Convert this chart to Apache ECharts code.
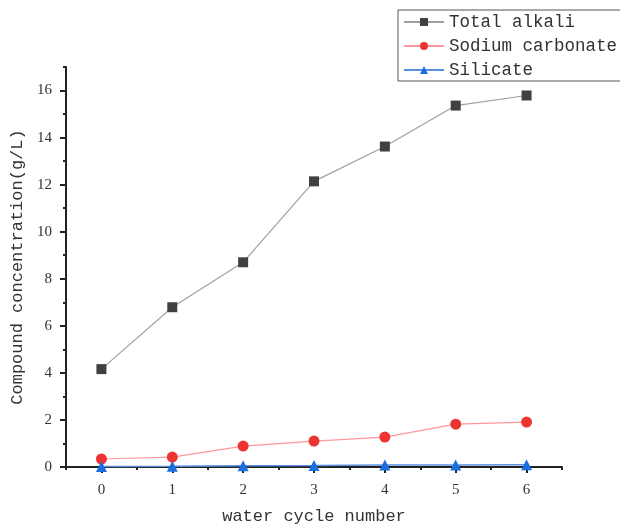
<!DOCTYPE html>
<html>
<head>
<meta charset="utf-8">
<script src="https://cdn.jsdelivr.net/npm/echarts@6/dist/echarts.min.js"></script>
<style>html,body{margin:0;padding:0;background:#fff}#c{width:620px;height:526px}</style>
</head>
<body>
<div id="c"></div>
<script>
var categories = ['0', '1', '2', '3', '4', '5', '6'];
var totalAlkali = [4.16, 6.79, 8.70, 12.14, 13.62, 15.36, 15.79];
var sodiumCarbonate = [0.34, 0.42, 0.89, 1.10, 1.27, 1.82, 1.91];
var silicate = [0.02, 0.03, 0.05, 0.06, 0.08, 0.09, 0.10];
var yTicks = [0, 2, 4, 6, 8, 10, 12, 14, 16];

var monoFont = '"Liberation Mono", monospace';
var serifFont = '"Liberation Serif", serif';
var chart = echarts.init(document.getElementById('c'));
chart.setOption({
  animation: false,
  backgroundColor: '#fff',
  grid: {left: 66, right: 58, top: 67, bottom: 59, containLabel: false, outerBoundsMode: 'none'},
  legend: {
    left: 398, top: 10, orient: 'vertical',
    itemWidth: 40, itemHeight: 10, itemGap: 6,
    padding: [3, 30, 2, 5],
    borderColor: '#555', borderWidth: 1,
    textStyle: {fontFamily: monoFont, fontSize: 17.5, color: '#333', lineHeight: 18},
    data: ['Total alkali', 'Sodium carbonate', 'Silicate']
  },
  xAxis: [
    {
      type: 'category', data: categories, boundaryGap: true,
      name: 'water cycle number', nameLocation: 'middle', nameGap: 41,
      nameTextStyle: {fontFamily: monoFont, fontSize: 17, color: '#333'},
      axisLine: {show: true, onZero: false, lineStyle: {color: '#222', width: 2}},
      axisTick: {show: true, alignWithLabel: true, inside: false, length: 6, lineStyle: {color: '#222', width: 2}},
      axisLabel: {margin: 16, fontFamily: serifFont, fontSize: 15, color: '#333'},
      splitLine: {show: false}
    },
    {
      type: 'value', min: -0.5, max: 6.5, interval: 0.5, position: 'bottom',
      axisLine: {show: false, onZero: false},
      axisTick: {show: true, length: 3, lineStyle: {color: '#222', width: 2}},
      axisLabel: {show: false},
      splitLine: {show: false}
    }
  ],
  yAxis: [
    {
      type: 'value', min: 0, max: 17,
      name: 'Compound concentration(g/L)', nameLocation: 'middle', nameGap: 34,
      nameTextStyle: {fontFamily: monoFont, fontSize: 17, color: '#333'},
      axisLine: {show: true, onZero: false, lineStyle: {color: '#222', width: 2}},
      axisTick: {show: true, length: 6, customValues: yTicks, lineStyle: {color: '#222', width: 2}},
      axisLabel: {margin: 14, customValues: yTicks, fontFamily: serifFont, fontSize: 15, color: '#333'},
      splitLine: {show: false}
    },
    {
      type: 'value', min: 0, max: 17, interval: 1, position: 'left',
      axisLine: {show: false, onZero: false},
      axisTick: {show: true, length: 3, lineStyle: {color: '#222', width: 2}},
      axisLabel: {show: false},
      splitLine: {show: false}
    }
  ],
  series: [
    {
      name: 'Total alkali', type: 'line', data: totalAlkali,
      symbol: 'rect', symbolSize: 10,
      lineStyle: {color: '#a0a0a0', width: 1.2},
      itemStyle: {color: '#404040'},
      z: 3
    },
    {
      name: 'Sodium carbonate', type: 'line', data: sodiumCarbonate,
      symbol: 'circle', symbolSize: 11,
      lineStyle: {color: '#ff9999', width: 1.2},
      itemStyle: {color: '#ee3333'},
      z: 4
    },
    {
      name: 'Silicate', type: 'line', data: silicate,
      symbol: 'triangle', symbolSize: 11,
      lineStyle: {color: '#5b8fe0', width: 1.5},
      itemStyle: {color: '#1a6ee0'},
      z: 5
    }
  ]
});
</script>
</body>
</html>
